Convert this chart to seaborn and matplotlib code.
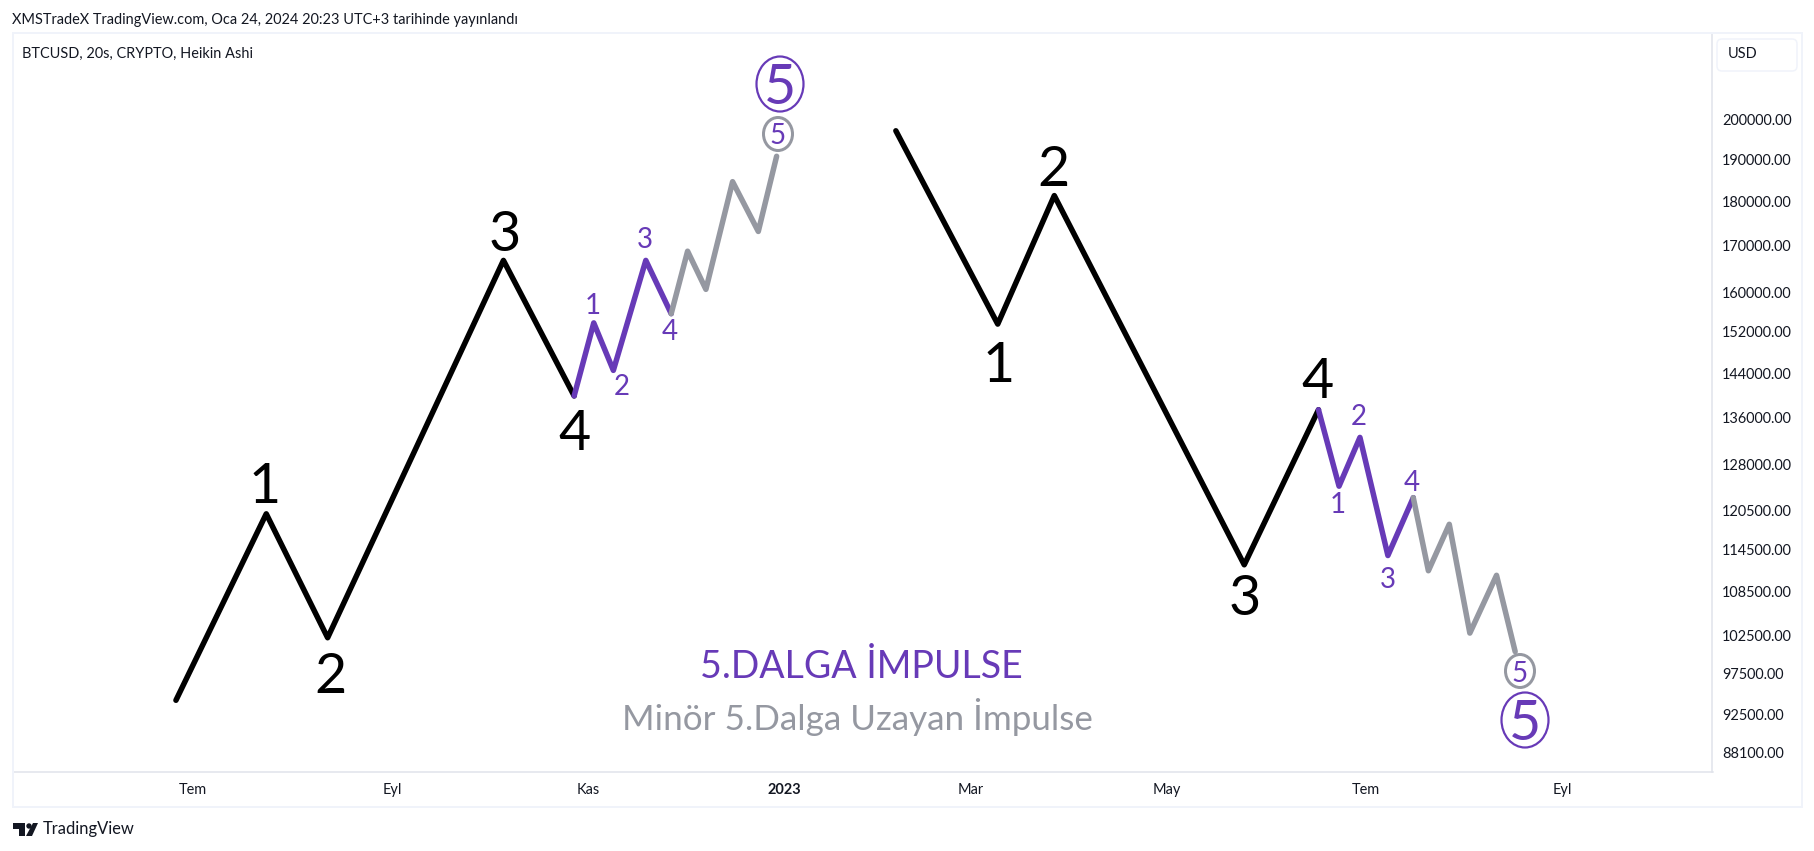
import matplotlib
matplotlib.use("Agg")
import matplotlib.pyplot as plt
from matplotlib.patches import Ellipse, Rectangle, FancyBboxPatch, Polygon, Circle
from matplotlib.ticker import FixedLocator, FixedFormatter, NullLocator
from matplotlib.transforms import Affine2D
import pandas as pd
import seaborn as sns

# days since 2022-07-01 and BTCUSD price for each wave segment
up_main_days = [-5.3, 22.8, 41.9, 96.6, 118.6]
up_main_price = [94220, 120000, 102180, 166700, 139830]
up_minor_days = [118.6, 124.7, 130.8, 140.9, 148.8]
up_minor_price = [139830, 153720, 144540, 166700, 155570]
up_ext_days = [148.8, 153.9, 159.6, 167.9, 175.9, 181.6]
up_ext_price = [155570, 168700, 160560, 184620, 173080, 190800]
down_main_days = [218.7, 250.4, 268.0, 327.1, 350.2]
down_main_price = [197220, 153480, 181320, 112320, 137340]
down_minor_days = [350.2, 356.6, 363.1, 371.8, 379.7]
down_minor_price = [137340, 124380, 132500, 113680, 122540]
down_ext_days = [379.7, 384.4, 390.9, 397.3, 405.6, 411.4]
down_ext_price = [122540, 111460, 118380, 102800, 110800, 100360]

price_ticks = [200000, 190000, 180000, 170000, 160000, 152000, 144000, 136000, 128000,
               120500, 114500, 108500, 102500, 97500, 92500, 88100]
month_days = [0, 62, 123, 184, 242, 303, 365, 426]
month_labels = ["Tem", "Eyl", "Kas", "2023", "Mar", "May", "Tem", "Eyl"]

W, H = 1815, 851
FONT = "Lato"
BLACK, PURPLE, GRAY = "#000000", "#673ab7", "#9598a1"
TXT = "#131722"
px = lambda v: v * 0.72
SMALL_TXT = px(14.5)

sns.set_theme(style="white")
plt.rcParams["font.family"] = [FONT, "DejaVu Sans"]

fig = plt.figure(figsize=(W / 100, H / 100), dpi=100, facecolor="white")
L, R, T, B = 13, 1712.5, 34, 772
ax = fig.add_axes([L / W, 1 - B / H, (R - L) / W, (B - T) / H])

segments = [
    (up_main_days, up_main_price, BLACK), (up_minor_days, up_minor_price, PURPLE),
    (up_ext_days, up_ext_price, GRAY), (down_main_days, down_main_price, BLACK),
    (down_minor_days, down_minor_price, PURPLE), (down_ext_days, down_ext_price, GRAY),
]
for days, price, color in segments:
    frame = pd.DataFrame({"day": days, "price": price})
    sns.lineplot(data=frame, x="day", y="price", sort=False, estimator=None, color=color,
                 linewidth=px(5.5), solid_capstyle="round", solid_joinstyle="round", ax=ax)

ax.set_yscale("log")
ax.set_xlim(-56.0, 472.8)
ax.set_ylim(85850, 223600)
ax.set_xlabel("")
ax.set_ylabel("")
ax.yaxis.tick_right()
ax.yaxis.set_major_locator(FixedLocator(price_ticks))
ax.yaxis.set_major_formatter(FixedFormatter([f"{p:.2f}" for p in price_ticks]))
ax.yaxis.set_minor_locator(NullLocator())
ax.set_xticks(month_days, month_labels)
ax.tick_params(axis="both", length=0, labelsize=SMALL_TXT, labelcolor=TXT)
ax.tick_params(axis="y", pad=7)
ax.tick_params(axis="x", pad=8)
for lab in ax.get_xticklabels():
    if lab.get_text() == "2023":
        lab.set_fontweight("bold")
for s in ("top", "left"):
    ax.spines[s].set_visible(False)
for s in ("right", "bottom"):
    ax.spines[s].set_color("#e0e3eb")
    ax.spines[s].set_linewidth(px(1.5))

# wave labels anchored on their pivots: (day, price, text, dx, dy in pixels up)
big = 40
small = 20
idx4 = [1, 2, 3, 4]
labels = [
    (up_main_days, up_main_price, [(-2, 26), (3, -40), (1, 25), (0, -39)], BLACK, big),
    (up_minor_days, up_minor_price, [(-1, 17), (8, -17), (-1, 20), (-1, -18)], PURPLE, small),
    (down_main_days, down_main_price, [(1, -42), (-1, 25), (0, -35), (-1, 27)], BLACK, big),
    (down_minor_days, down_minor_price, [(-1, -19), (-1, 20), (0, -24), (-2, 15)], PURPLE, small),
]
for days, price, offs, col, size in labels:
    for i, (dx, dy) in zip(idx4, offs):
        ax.annotate(str(i), (days[i], price[i]), xytext=(px(dx), px(dy)), textcoords="offset points",
                    ha="center", va="center", color=col, fontsize=size)

def fig_px(x, y):
    return x, H - y

pxt = Affine2D()  # identity: figure pixel coordinates
def add_circled(cx, cy, w, h, edge, size, lw):
    fig.add_artist(Ellipse(fig_px(cx, cy), w, h, transform=pxt, fill=False, edgecolor=edge, linewidth=px(lw)))
    fig.text(cx / W, 1 - cy / H, "5", ha="center", va="center_baseline", color=PURPLE, fontsize=size)

add_circled(780, 84, 47, 55, PURPLE, 40, 2.2)
add_circled(778, 134, 29, 33, GRAY, 20, 3)
add_circled(1520, 671, 29, 33, GRAY, 20, 3)
add_circled(1525, 720, 47, 55, PURPLE, 40, 2.2)

fig.text(861 / W, 1 - 667 / H, "5.DALGA İMPULSE", ha="center", va="center", color=PURPLE, fontsize=27)
fig.text(857 / W, 1 - 717 / H, "Minör 5.Dalga Uzayan İmpulse", ha="center", va="center", color=GRAY, fontsize=25.2)

# page furniture
fig.add_artist(Rectangle(fig_px(12.5, 807), 1789, 774, transform=pxt, fill=False,
                         edgecolor="#f0f3fa", linewidth=px(2)))
fig.add_artist(FancyBboxPatch(fig_px(1717, 71), 80, 32, boxstyle="round,pad=0,rounding_size=5", transform=pxt,
                              facecolor="white", edgecolor="#f0f3fa", linewidth=px(1.5)))
fig.text(1728 / W, 1 - 54 / H, "USD", ha="left", va="center", color=TXT, fontsize=SMALL_TXT)
fig.text(12 / W, 1 - 20 / H, "XMSTradeX TradingView.com, Oca 24, 2024 20:23 UTC+3 tarihinde yayınlandı",
         ha="left", va="center", color=TXT, fontsize=SMALL_TXT)
fig.text(22 / W, 1 - 54 / H, "BTCUSD, 20s, CRYPTO, Heikin Ashi", ha="left", va="center", color=TXT, fontsize=SMALL_TXT)
fig.text(43 / W, 1 - 829 / H, "TradingView", ha="left", va="center", color=TXT, fontsize=px(16.5))
fig.add_artist(Polygon([fig_px(13, 823), fig_px(25, 823), fig_px(25, 836), fig_px(19, 836), fig_px(19, 829), fig_px(13, 829)],
                       transform=pxt, facecolor=TXT, edgecolor="none"))
fig.add_artist(Circle(fig_px(29, 826), 2.7, transform=pxt, facecolor=TXT, edgecolor="none"))
fig.add_artist(Polygon([fig_px(33, 823), fig_px(38, 823), fig_px(32, 836), fig_px(26, 836)],
                       transform=pxt, facecolor=TXT, edgecolor="none"))

fig.savefig("out.png", dpi=100, facecolor="white")
